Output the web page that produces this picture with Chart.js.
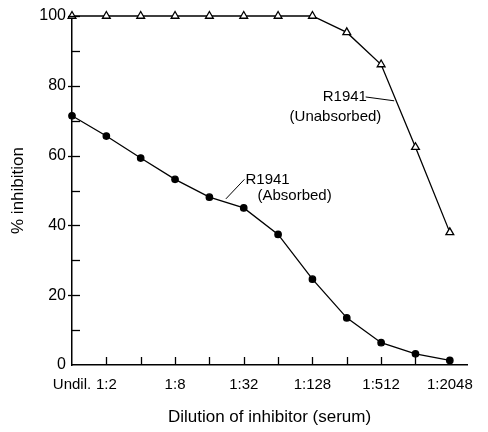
<!DOCTYPE html>
<html><head><meta charset="utf-8">
<script src="https://cdn.jsdelivr.net/npm/chart.js@4/dist/chart.umd.min.js"></script>
<style>html,body{margin:0;padding:0;background:#fff}#wrap{width:488px;height:432px}</style>
</head><body><div id="wrap"><canvas id="c" width="488" height="432"></canvas></div>
<script>
const categories = ["Undil.", "1:2", "1:4", "1:8", "1:16", "1:32", "1:64", "1:128", "1:256", "1:512", "1:1024", "1:2048"];
const shownLabels = ["Undil.", "1:2", "1:8", "1:32", "1:128", "1:512", "1:2048"];
const absorbed = [71.4, 65.6, 59.3, 53.2, 48.1, 45.0, 37.4, 24.6, 13.5, 6.4, 3.2, 1.3];
const unabsorbed = [100, 100, 100, 100, 100, 100, 100, 100, 95.3, 86.1, 62.4, 38.0];
const yTickValues = [0, 10, 20, 30, 40, 50, 60, 70, 80, 90, 100];

const FONT = "'Liberation Sans', 'DejaVu Sans', sans-serif";
const toPts = arr => arr.map((v, i) => ({x: i, y: v}));

const innerTicks = {
  id: 'innerTicks',
  afterDraw(chart) {
    const ctx = chart.ctx, xs = chart.scales.x, ys = chart.scales.y, a = chart.chartArea;
    ctx.save();
    ctx.strokeStyle = '#000'; ctx.lineWidth = 1.3;
    categories.forEach((c, i) => {
      if (i === 0) return;
      const px = Math.round(xs.getPixelForValue(i)) + 0.5;
      ctx.beginPath(); ctx.moveTo(px, a.bottom); ctx.lineTo(px, a.bottom - 8); ctx.stroke();
    });
    yTickValues.forEach(v => {
      if (v === 0) return;
      const py = Math.round(ys.getPixelForValue(v)) + 0.5;
      ctx.beginPath(); ctx.moveTo(a.left - (v % 20 === 0 ? 4 : 0), py); ctx.lineTo(a.left + 8, py); ctx.stroke();
    });
    // annotations
    ctx.fillStyle = '#000';
    ctx.font = "15px " + FONT;
    ctx.textBaseline = 'middle';
    const P = (x, y) => [xs.getPixelForValue(x), ys.getPixelForValue(y)];
    let p;
    ctx.textAlign = 'left';
    p = P(7.3, 76.8); ctx.fillText("R1941", p[0], p[1]);
    ctx.textAlign = 'center';
    p = P(7.67, 71.1); ctx.fillText("(Unabsorbed)", p[0], p[1]);
    ctx.textAlign = 'left';
    p = P(5.05, 53.0); ctx.fillText("R1941", p[0], p[1]);
    p = P(5.4, 48.4); ctx.fillText("(Absorbed)", p[0], p[1]);
    ctx.lineWidth = 1;
    let a1 = P(8.55, 76.8), a2 = P(9.38, 75.7);
    ctx.beginPath(); ctx.moveTo(a1[0], a1[1]); ctx.lineTo(a2[0], a2[1]); ctx.stroke();
    a1 = P(5.02, 53.2); a2 = P(4.48, 47.6);
    ctx.beginPath(); ctx.moveTo(a1[0], a1[1]); ctx.lineTo(a2[0], a2[1]); ctx.stroke();
    ctx.restore();
  }
};

new Chart(document.getElementById('c'), {
  type: 'line',
  data: {
    datasets: [
      {label: 'R1941 (Unabsorbed)', data: toPts(unabsorbed), borderColor: '#000', borderWidth: 1.3,
       pointStyle: 'triangle', pointRadius: 4.5, pointBackgroundColor: '#fff', pointBorderColor: '#000', pointBorderWidth: 1.3, clip: false},
      {label: 'R1941 (Absorbed)', data: toPts(absorbed), borderColor: '#000', borderWidth: 1.3,
       pointStyle: 'circle', pointRadius: 3.2, pointBackgroundColor: '#000', pointBorderColor: '#000', clip: false}
    ]
  },
  options: {
    responsive: false, animation: false,
    layout: {padding: {top: 16, right: 21, left: 4, bottom: 0}},
    plugins: {legend: {display: false}, tooltip: {enabled: false}},
    scales: {
      x: {
        type: 'linear', min: 0, max: 11.5,
        afterBuildTicks: s => { s.ticks = categories.map((c, i) => ({value: i})); },
        afterFit: s => { s.height = 67; },
        grid: {display: false, drawTicks: false},
        border: {display: true, color: '#000', width: 1.5},
        ticks: {autoSkip: false, maxRotation: 0, padding: 11, color: '#000', font: {family: FONT, size: 15},
          callback: (v) => shownLabels.includes(categories[v]) ? categories[v] : ''},
        title: {display: true, text: 'Dilution of inhibitor (serum)', color: '#000', font: {family: FONT, size: 17}, padding: {top: 2}}
      },
      y: {
        min: 0, max: 100,
        afterBuildTicks: s => { s.ticks = yTickValues.map(v => ({value: v})); },
        afterFit: s => { s.width = 68; },
        grid: {display: false, drawTicks: false},
        border: {display: true, color: '#000', width: 1.5},
        ticks: {padding: 6, color: '#000', font: {family: FONT, size: 16},
          callback: v => (v % 20 === 0 ? String(v) : '')},
        title: {display: true, text: '% inhibition', color: '#000', font: {family: FONT, size: 17}, padding: {bottom: 2}}
      }
    }
  },
  plugins: [innerTicks]
});
</script></body></html>
